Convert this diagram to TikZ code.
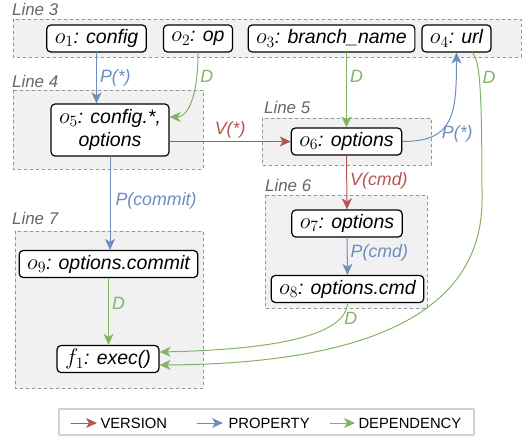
\documentclass[tikz,border=0pt]{standalone}
\usepackage{fix-cm}
\usepackage[no-math]{fontspec}
\setmainfont{Liberation Sans}
\usetikzlibrary{arrows.meta}

\definecolor{versionred}{HTML}{B85450}
\definecolor{propblue}{HTML}{6C8EBF}
\definecolor{depgreen}{HTML}{82B366}
\definecolor{regionfill}{RGB}{241,241,241}
\definecolor{regiongray}{RGB}{150,150,150}
\definecolor{labelgray}{RGB}{102,102,102}
\definecolor{legendgray}{RGB}{210,210,210}

% object name in math, a bit larger like the text
\newcommand{\objvar}[2]{{\fontsize{22.5}{24}\selectfont$#1_{#2}$}}

\tikzset{
	obj/.style={draw=black, line width=1.2pt, rounded corners=4pt, fill=white,
		inner xsep=8pt, inner ysep=0pt, minimum height=27pt,
		font=\fontsize{19.5}{23}\selectfont\itshape},
	regionbox/.style={draw=regiongray, line width=0.9pt, dash pattern=on 3pt off 3pt, fill=regionfill},
	linelabel/.style={anchor=base west, inner sep=0pt, text=labelgray,
		font=\fontsize{16.9}{18}\selectfont\itshape},
	elabel/.style={inner sep=2pt, font=\fontsize{17.8}{20}\selectfont\itshape},
	version/.style={->, color=versionred, line width=1pt},
	prop/.style={->, color=propblue, line width=1pt},
	dep/.style={->, color=depgreen, line width=1pt},
}

\begin{document}
\begin{tikzpicture}[x=1pt, y=-1pt, >={Stealth[length=11pt, width=10pt, inset=3pt]},
	line cap=round, line join=round]
\useasboundingbox (0,0) rectangle (524,439);
%========================
% source lines
%========================
\draw[regionbox] (13,19) rectangle (521,57);
\node[linelabel] at (12,15) {Line 3};
\draw[regionbox] (13,90) rectangle (203,169);
\node[linelabel] at (12,87) {Line 4};
\draw[regionbox] (262,118) rectangle (431,165);
\node[linelabel] at (264,113) {Line 5};
\draw[regionbox] (265,195) rectangle (427,308);
\node[linelabel] at (265,191) {Line 6};
\draw[regionbox] (15,231) rectangle (203,388);
\node[linelabel] at (12,224) {Line 7};

%========================
% objects
%========================
\node[obj] (o1) at (96.5,38.5) {\objvar{o}{1}: config};
\node[obj] (o2) at (198,38.5) {\objvar{o}{2}: op};
\node[obj] (o3) at (331.5,38.5) {\objvar{o}{3}: branch\_name};
\node[obj] (o4) at (456.5,38.5) {\objvar{o}{4}: url};
\node[obj, align=center, minimum height=52pt] (o5) at (110,130) {\objvar{o}{5}: config.*,\\options};
\node[obj] (o6) at (346.5,141.5) {\objvar{o}{6}: options};
\node[obj] (o7) at (347,223.5) {\objvar{o}{7}: options};
\node[obj] (o8) at (347.5,289) {\objvar{o}{8}: options.cmd};
\node[obj] (o9) at (108.5,264) {\objvar{o}{9}: options.commit};
\node[obj] (f1) at (108,359) {\objvar{f}{1}: exec()};

%========================
% edges
%========================
% properties
\draw[prop] (o1.south) -- (o1.south |- o5.north) node[elabel, midway, right=1pt] {P(*)};
\draw[prop] (o5.south) -- (o5.south |- o9.north) node[elabel, pos=0.48, right=3pt] {P(commit)};
\draw[prop] (o7.south) -- (o8.north) node[elabel, pos=0.42, right=1pt] {P(cmd)};
\draw[prop] (o6.east) .. controls +(51,0) and +(0,63) .. (o4.south)
	node[elabel, pos=0.3, right=3pt] {P(*)};
% versions
\draw[version] (o6.west -| o5.east) -- (o6.west) node[elabel, pos=0.5, above=1pt] {V(*)};
\draw[version] (o6.south) -- (o7.north) node[elabel, pos=0.47, right=1pt] {V(cmd)};
% dependencies
\draw[dep] (o2.south) .. controls +(0,45) and +(18,0) .. ([yshift=13pt]o5.east)
	node[elabel, pos=0.2, right=1pt] {D};
\draw[dep] (o6.north |- o3.south) -- (o6.north) node[elabel, pos=0.32, right=1pt] {D};
\draw[dep] (o9.south) -- (o9.south |- f1.north) node[elabel, pos=0.38, right=1pt] {D};
\draw[dep] (o8.south) .. controls +(-2,37) and +(94,-2) .. ([yshift=7pt]f1.east)
	node[elabel, pos=0.16, right=2pt] {D};
\coordinate (urlturn) at (482,200);
\draw[dep] ([xshift=16pt]o4.south) .. controls (479,62) and (482,75) .. (urlturn)
	node[elabel, pos=0.45, right=1pt] {D}
	.. controls (482,330) and (330,364) .. ([yshift=-6pt]f1.east);

%========================
% legend
%========================
\draw[draw=legendgray, line width=1.2pt, fill=white] (59,409) rectangle (474,435);
\coordinate (lv) at (71,423);
\coordinate (lp) at (197,423);
\coordinate (ld) at (330,423);
\draw[version] (lv) -- ++(26,0) node[right=1pt, black, inner sep=2pt, font=\fontsize{14.8}{16}\selectfont] (tv) {VERSION};
\draw[prop] (lp) -- ++(26,0) node[right=3pt, black, inner sep=2pt, font=\fontsize{14.8}{16}\selectfont] (tp) {PROPERTY};
\draw[dep] (ld) -- ++(25,0) node[right=1pt, black, inner sep=2pt, font=\fontsize{14.8}{16}\selectfont] (td) {DEPENDENCY};
\end{tikzpicture}
\end{document}
